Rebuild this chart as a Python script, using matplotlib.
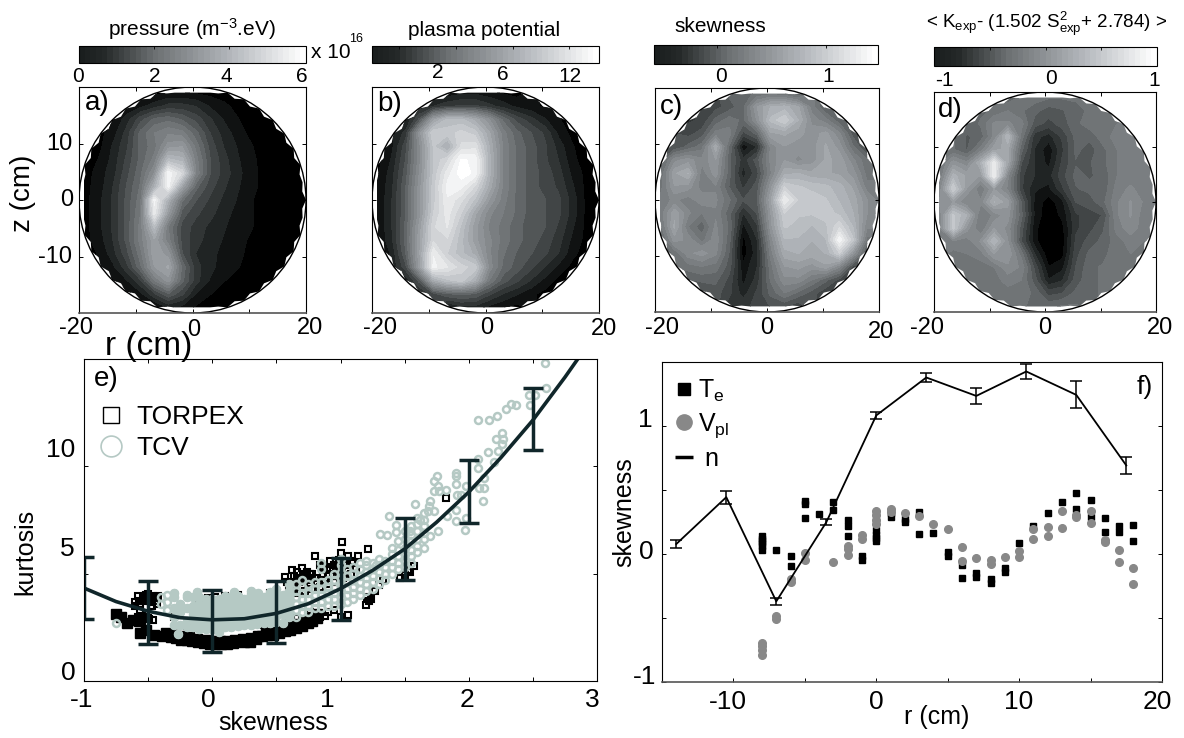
import numpy as np
import matplotlib
matplotlib.use('Agg')
import matplotlib.pyplot as plt
from matplotlib.cm import ScalarMappable
from matplotlib.colors import LinearSegmentedColormap, Normalize
from matplotlib.lines import Line2D
from matplotlib.patches import Circle
from matplotlib.path import Path

plt.rcParams['font.family'] = ['Liberation Sans', 'DejaVu Sans']
plt.rcParams['mathtext.default'] = 'regular'

W, H = 1184, 738

# Grid of the four maps (cm), values in percent of each colour bar
r_grid = np.linspace(-19, 20.3, 17)
z_grid = np.linspace(19, -19, 17)

pressure = [
    [0, 0, 0, 0, 0, 3, 5, 5, 4, 3, 2, 0, 0, 0, 0, 0, 0],
    [0, 0, 0, 5, 8, 12, 16, 16, 14, 9, 6, 3, 1, 0, 0, 0, 0],
    [0, 0, 4, 12, 22, 30, 32, 28, 22, 15, 9, 5, 2, 1, 0, 0, 0],
    [0, 0, 7, 16, 30, 38, 42, 40, 30, 19, 12, 7, 3, 1, 0, 0, 0],
    [0, 3, 10, 18, 30, 36, 50, 52, 36, 22, 14, 9, 5, 2, 0, 0, 0],
    [2, 5, 11, 20, 30, 40, 68, 64, 40, 24, 16, 10, 6, 2, 0, 0, 0],
    [2, 7, 12, 22, 32, 48, 94, 80, 42, 24, 17, 11, 6, 3, 0, 0, 0],
    [3, 7, 14, 24, 34, 62, 92, 56, 30, 21, 15, 10, 6, 3, 0, 0, 0],
    [3, 8, 15, 25, 36, 92, 62, 34, 24, 18, 13, 9, 5, 2, 0, 0, 0],
    [3, 8, 15, 25, 38, 88, 52, 26, 20, 16, 11, 8, 5, 2, 0, 0, 0],
    [3, 8, 15, 25, 40, 68, 38, 22, 17, 13, 10, 7, 5, 2, 0, 0, 0],
    [3, 7, 14, 25, 40, 56, 40, 22, 16, 12, 9, 6, 4, 1, 0, 0, 0],
    [0, 5, 12, 22, 36, 56, 50, 24, 14, 11, 8, 6, 3, 1, 0, 0, 0],
    [0, 0, 8, 17, 32, 52, 58, 32, 16, 11, 7, 5, 3, 1, 0, 0, 0],
    [0, 0, 4, 9, 18, 38, 50, 30, 16, 9, 5, 3, 1, 0, 0, 0, 0],
    [0, 0, 0, 3, 8, 18, 28, 20, 9, 5, 2, 1, 0, 0, 0, 0, 0],
    [0, 0, 0, 0, 0, 3, 10, 8, 4, 1, 0, 0, 0, 0, 0, 0, 0],
]
potential = [
    [0, 0, 0, 0, 0, 6, 8, 8, 6, 4, 3, 0, 0, 0, 0, 0, 0],
    [0, 0, 0, 10, 14, 18, 20, 20, 16, 12, 8, 6, 4, 0, 0, 0, 0],
    [0, 0, 8, 25, 55, 68, 68, 60, 48, 32, 22, 16, 10, 5, 0, 0, 0],
    [0, 0, 16, 50, 76, 74, 78, 74, 58, 40, 30, 24, 18, 8, 3, 0, 0],
    [0, 8, 22, 46, 72, 60, 82, 84, 62, 42, 32, 26, 20, 12, 5, 2, 0],
    [3, 10, 24, 46, 72, 80, 96, 94, 64, 42, 32, 26, 20, 14, 6, 2, 0],
    [4, 12, 26, 48, 72, 88, 98, 94, 64, 42, 32, 26, 22, 16, 8, 3, 0],
    [5, 13, 28, 50, 74, 92, 92, 80, 60, 42, 32, 26, 22, 18, 10, 3, 0],
    [5, 14, 28, 50, 74, 90, 82, 70, 52, 40, 32, 26, 24, 20, 12, 3, 0],
    [5, 14, 28, 50, 76, 88, 76, 58, 44, 38, 32, 26, 24, 20, 12, 3, 0],
    [5, 14, 30, 54, 80, 86, 70, 54, 42, 36, 30, 26, 24, 18, 10, 3, 0],
    [5, 13, 30, 56, 80, 80, 68, 54, 44, 36, 30, 26, 22, 16, 8, 3, 0],
    [0, 10, 28, 56, 90, 76, 68, 60, 44, 34, 28, 24, 20, 14, 6, 2, 0],
    [0, 0, 22, 54, 92, 86, 78, 74, 46, 32, 26, 20, 14, 8, 3, 0, 0],
    [0, 0, 10, 26, 60, 70, 74, 62, 38, 26, 20, 14, 8, 3, 0, 0, 0],
    [0, 0, 0, 12, 22, 28, 30, 28, 20, 14, 10, 6, 3, 0, 0, 0, 0],
    [0, 0, 0, 0, 0, 8, 12, 12, 8, 5, 3, 0, 0, 0, 0, 0, 0],
]
skew_map = [
    [0, 0, 0, 0, 0, 30, 32, 34, 36, 34, 28, 0, 0, 0, 0, 0, 0],
    [0, 0, 0, 20, 22, 26, 32, 52, 62, 64, 58, 40, 28, 0, 0, 0, 0],
    [0, 0, 18, 20, 30, 36, 32, 48, 68, 76, 62, 46, 40, 30, 0, 0, 0],
    [0, 0, 22, 26, 40, 40, 22, 30, 56, 58, 54, 50, 54, 44, 26, 0, 0],
    [0, 24, 30, 36, 60, 32, 6, 14, 44, 52, 50, 50, 58, 50, 34, 22, 0],
    [28, 46, 50, 44, 52, 30, 16, 26, 44, 52, 46, 50, 58, 56, 44, 34, 0],
    [34, 56, 62, 40, 50, 30, 12, 22, 42, 60, 62, 58, 58, 56, 50, 36, 0],
    [36, 52, 50, 40, 42, 28, 18, 26, 50, 76, 72, 70, 68, 64, 56, 40, 0],
    [40, 44, 40, 46, 44, 34, 24, 28, 56, 90, 76, 74, 72, 66, 60, 48, 40],
    [40, 56, 44, 38, 42, 30, 14, 24, 52, 76, 72, 72, 74, 70, 62, 48, 0],
    [36, 58, 38, 30, 44, 32, 8, 18, 50, 72, 70, 66, 70, 80, 66, 44, 0],
    [30, 50, 46, 36, 46, 30, 3, 14, 44, 66, 66, 62, 66, 94, 72, 36, 0],
    [0, 34, 46, 50, 44, 28, 2, 12, 40, 60, 62, 60, 62, 76, 50, 26, 0],
    [0, 0, 36, 38, 36, 26, 6, 14, 36, 52, 54, 50, 56, 44, 22, 0, 0],
    [0, 0, 28, 30, 30, 22, 8, 16, 34, 46, 46, 38, 30, 22, 0, 0, 0],
    [0, 0, 0, 22, 26, 20, 12, 20, 30, 38, 32, 26, 20, 0, 0, 0, 0],
    [0, 0, 0, 0, 0, 16, 18, 20, 24, 24, 20, 0, 0, 0, 0, 0, 0],
]
kurt_diff = [
    [0, 0, 0, 0, 0, 30, 34, 36, 34, 34, 34, 0, 0, 0, 0, 0, 0],
    [0, 0, 0, 32, 34, 38, 34, 30, 26, 28, 32, 34, 36, 0, 0, 0, 0],
    [0, 0, 30, 34, 44, 44, 40, 26, 22, 26, 32, 36, 38, 38, 0, 0, 0],
    [0, 0, 28, 30, 44, 66, 36, 16, 12, 20, 30, 30, 36, 40, 40, 0, 0],
    [0, 34, 28, 40, 56, 58, 30, 14, 6, 18, 30, 26, 32, 38, 42, 42, 0],
    [36, 50, 44, 62, 88, 58, 24, 14, 8, 20, 28, 28, 32, 38, 40, 40, 0],
    [38, 64, 56, 52, 90, 44, 20, 14, 12, 22, 30, 28, 30, 38, 40, 40, 0],
    [44, 76, 52, 38, 52, 42, 20, 10, 8, 18, 28, 30, 30, 40, 44, 40, 0],
    [48, 52, 42, 44, 62, 54, 28, 8, 2, 8, 24, 26, 32, 42, 48, 42, 38],
    [44, 72, 62, 38, 44, 50, 30, 8, 1, 6, 18, 22, 24, 42, 48, 40, 0],
    [42, 74, 50, 38, 52, 46, 26, 6, 0, 3, 18, 22, 28, 40, 46, 40, 0],
    [40, 42, 40, 48, 66, 48, 24, 6, 0, 2, 20, 26, 30, 36, 40, 38, 0],
    [0, 36, 38, 40, 52, 52, 36, 14, 1, 3, 22, 30, 32, 36, 38, 36, 0],
    [0, 0, 34, 36, 38, 46, 42, 22, 5, 8, 24, 32, 34, 34, 36, 0, 0],
    [0, 0, 34, 36, 36, 40, 38, 26, 10, 14, 26, 32, 34, 34, 0, 0, 0],
    [0, 0, 0, 34, 34, 36, 36, 32, 22, 24, 30, 32, 34, 0, 0, 0, 0],
    [0, 0, 0, 0, 0, 34, 34, 32, 32, 34, 34, 0, 0, 0, 0, 0, 0],
]

# Panel e, TORPEX: the black lower band first, then the other squares
band_s = [-.754, -.709, -.664, -.619, -.574, -.56, -.514, -.454, -.394, -.319, -.32, -.28, -.244, -.2, -.154,
          -.11, -.064, -.02, .025, .07, .115, .16, .205, .25, .295, .34, .385, .43, .475, .52, .565, .61, .655,
          .7, .745, .78, .82, .82, .78, .72, .66, .6, .54, .48, .42, .36, .3, .24, .18, .12, .06, 0, -.06, -.12,
          -.18, -.24, -.3, -.36]
band_k = [3.12, 2.98, 2.70, 2.86, 2.78, 2.24, 2.39, 2.16, 2.11, 2.03, 2.2, 2.0, 1.93, 1.9, 1.85,
          1.8, 1.77, 1.74, 1.74, 1.72, 1.74, 1.78, 1.85, 1.84, 1.82, 1.95, 2.08, 2.12, 2.16, 2.22, 2.31, 2.38, 2.47,
          2.58, 2.70, 2.8, 2.93, 3.1, 3.0, 2.8, 2.65, 2.5, 2.4, 2.3, 2.25, 2.1, 2.0, 1.95, 1.9, 1.85, 1.85, 1.85,
          1.9, 1.95, 2.05, 2.1, 2.15, 2.25]
torpex_s = [-.6, -.58, -.56, -.54, -.52, -.5, -.48, -.46, -.44, -.42, -.6, -.57, -.54, -.51, -.48, -.45, -.43, -.58,
            -.55, -.52, -.49, -.46, -.58, -.55, -.52, -.5, -.47, -.56,
            .565, .625, .70, .805, .895, .985, 1.015, 1.0, 1.06, 1.216, 1.135, 1.825, .66, .74, .86, .92, .95, 1.03,
            .58, .64, .76, .9, .97, 1.09, 1.12, 1.0, 1.06, 1.225, 1.195, 1.21, 1.24, 1.3, 1.27, 1.33, 1.525, 1.465,
            1.57, 1.5, 1.54, .9, .95, .88, .84, .7, .72, .76, .8, .66, .6, .02, .1, -.1, -.03, .2, .3, .45,
            -.3, -.2, .08, .25, .4, .6, .8, .95,
            .62, .68, .74, .8, .86, .92, .98, 1.04, 1.1, .64, .7, .76, .82, .88, .94, 1.0, 1.06, .66, .72, .78, .84,
            .9, .96, 1.02, 1.08, .6, .66, .72, .78, .84]
torpex_k = [3.5, 3.95, 3.6, 3.9, 4.0, 4.05, 3.9, 3.95, 3.85, 3.95, 3.7, 3.75, 3.75, 3.8, 3.7, 3.75, 3.6, 3.0,
            3.05, 3.0, 2.9, 2.85, 2.8, 2.75, 2.7, 2.95, 3.5, 3.3,
            4.84, 5.19, 5.26, 5.81, 5.19, 5.65, 6.48, 5.96, 5.81, 6.15, 5.81, 8.52, 5.1, 5.1, 5.3, 5.6, 5.4, 5.5,
            4.6, 4.9, 5.0, 5.0, 5.1, 5.6, 5.2, 3.0, 3.09, 3.71, 3.56, 3.9, 3.8, 4.49, 4.2, 4.7, 5.19, 4.8,
            5.34, 4.95, 5.1, 3.2, 3.3, 3.05, 3.0, 2.9, 2.75, 3.2, 3.0, 2.95, 2.65, 3.9, 3.95, 3.75, 3.85, 4.0, 3.9, 4.1,
            3.0, 2.55, 2.6, 2.7, 2.6, 2.8, 3.1, 4.6,
            4.5, 4.6, 4.7, 4.8, 5.0, 5.2, 5.3, 5.4, 5.5, 4.3, 4.4, 4.5, 4.6, 4.7, 4.9, 5.1, 5.2, 4.1, 4.2, 4.3, 4.4,
            4.5, 4.6, 4.8, 5.0, 4.3, 4.7, 4.9, 5.0, 5.4]

# Panel e, TCV circles: dense cloud by skewness column, then the sparse points
cloud_s = [-.40, -.35, -.30, -.25, -.20, -.15, -.10, -.05, 0, .05, .10, .15, .20, .25, .30, .35, .40, .45, .50, .55,
           .60, .65, .70, .75, .80, .85, .90, .95, 1.0, 1.05, 1.10, 1.15, 1.20, 1.25, 1.30, 1.35, 1.40, 1.45, 1.50,
           1.55, 1.60, 1.65]
cloud_k = [[3.6, 3.9], [3.3, 3.7, 4.0], [2.6, 3.0, 3.4, 3.9], [2.6, 3.2, 3.6], [2.5, 2.8, 3.4, 3.9],
           [2.5, 2.8, 3.1, 3.5, 3.9], [2.4, 2.7, 3.0, 3.3, 3.6, 3.9], [2.4, 2.7, 3.0, 3.3, 3.6, 3.8],
           [2.4, 2.65, 2.9, 3.15, 3.4, 3.65, 3.8], [2.3, 2.6, 2.9, 3.2, 3.5, 3.8],
           [2.5, 2.75, 3.0, 3.25, 3.5, 3.75, 3.95], [2.5, 2.8, 3.1, 3.4, 3.7, 3.9], [2.55, 2.85, 3.15, 3.45, 3.75, 3.95],
           [2.6, 2.9, 3.2, 3.5, 3.8], [2.6, 2.9, 3.2, 3.5, 3.8, 4.0], [2.65, 2.95, 3.25, 3.55, 3.85],
           [2.7, 3.0, 3.3, 3.6, 3.9], [2.7, 3.0, 3.3, 3.6, 3.9, 4.15], [2.75, 3.05, 3.35, 3.65, 3.95],
           [2.7, 3.1, 3.4, 3.7, 4.0], [3.0, 3.3, 3.6, 3.9, 4.2, 4.5], [3.0, 3.3, 3.6, 3.9, 4.2, 4.5],
           [3.2, 3.5, 3.8, 4.1, 4.4, 4.7], [3.2, 3.5, 3.8, 4.1, 4.5], [3.4, 3.7, 4.0, 4.3, 4.6],
           [3.4, 3.7, 4.0, 4.3, 4.6, 5.2], [3.5, 3.8, 4.1, 4.4, 4.7], [3.5, 3.8, 4.1, 4.4, 4.7, 5.0],
           [3.6, 3.9, 4.2, 4.5, 4.8, 5.1, 5.4], [3.7, 4.0, 4.3, 4.6, 4.9, 5.2], [3.8, 4.1, 4.4, 4.7, 5.0, 5.3],
           [4.0, 4.3, 4.6, 4.9, 5.2, 5.5], [4.2, 4.5, 4.8, 5.1, 5.4, 5.6], [4.3, 4.6, 4.9, 5.2, 5.5],
           [4.5, 4.8, 5.1, 5.4, 5.7], [4.7, 5.0, 5.3, 5.6], [5.0, 5.3, 5.6, 5.9, 6.2], [5.2, 5.5, 5.8, 6.1, 6.5],
           [5.3, 5.6, 5.9, 6.2, 6.6, 7.0], [5.5, 5.8, 6.1, 6.5, 6.8, 7.2], [6.0, 6.3, 6.6, 7.0, 7.3, 7.6],
           [6.2, 6.6, 6.9, 7.2, 7.5]]
sparse_s = [2.595, 2.6, 2.47, 2.52, 2.48, 2.33, 2.37, 2.29, 2.22, 2.16, 2.07, 2.26, 2.21, 2.27, 2.26, 2.23, 2.15, 2.07,
            2.2, 2.07, 2.12, 1.9, 1.9, 1.9, 1.75, 1.73, 1.76, 1.73, 1.82, 1.77, 1.98, 1.91, 1.94, 2.08, 2.12, 2.11,
            1.7, 1.58, 1.69, 1.68, 1.73, 1.83, 1.9, 1.9, 1.98, 1.97, 1.76, 1.7, 1.38, 1.43, 1.43, 1.31, 1.36, 1.62,
            1.65, 1.54, -.75, -.3, -.27, -.2, -.12, .17, .3, .36, .5, .85, 1.0, 1.28]
sparse_k = [14.8, 13.65, 13.3, 13.3, 12.87, 12.92, 12.85, 12.67, 12.36, 12.17, 12.14, 11.55, 11.29, 11.29, 11.04, 10.73,
            10.65, 10.34, 10.2, 9.9, 9.46, 9.7, 9.53, 9.2, 9.57, 9.3, 9.1, 8.84, 8.9, 8.84, 9.07, 8.68, 8.68, 9.0, 9.0,
            8.4, 8.37, 8.26, 8.14, 7.9, 7.9, 7.67, 7.95, 7.47, 7.6, 7.02, 7.0, 6.74, 7.67, 7.28, 6.93, 6.85, 6.82, 7.5,
            7.83, 6.97, 2.7, 4.1, 2.2, 4.0, 4.15, 4.15, 4.2, 4.1, 4.3, 5.5, 5.7, 5.4]

# Panel e, fit curve and bars
fit_s = [-1, -.75, -.5, -.25, 0, .25, .5, .75, 1, 1.25, 1.5, 1.75, 2, 2.25, 2.5, 2.75, 2.85]
fit_k = [4.33, 3.7, 3.25, 2.95, 2.85, 2.9, 3.15, 3.6, 4.3, 5.15, 6.15, 7.4, 8.8, 10.4, 12.15, 14.15, 15.0]
bar_s = [-1, -.5, 0, .5, 1, 1.5, 2, 2.5]
bar_k = [4.33, 3.2, 2.8, 3.2, 4.3, 6.15, 8.84, 12.2]
bar_err = [1.46, 1.46, 1.45, 1.45, 1.44, 1.45, 1.47, 1.46]

# Panel f
te_r = [-8, -8, -8, -8, -8, -8, -7, -6, -6, -5, -5, -5, -4, -3, -3, -2, -2, -2, -1, -1, 0, 0, 0, 0, 1, 1, 2, 2, 3, 3, 4,
        5, 5, 6, 6, 7, 7, 8, 8, 9, 9, 10, 11, 12, 13, 14, 14, 15, 15, 16, 16, 17, 17, 18, 18]
te_v = [.144, .12, .104, .086, .06, .029, .034, -.013, -.097, .413, .394, .285, .316, .405, .347, .269, .222, .141,
        -.013, -.044, .19, .151, .125, .104, .287, .32, .274, .248, .329, .154, .164, .013, -.013, -.084, -.185,
        -.149, -.18, -.196, -.227, -.112, -.144, .084, .222, .321, .41, .473, .355, .423, .287, .285, .172, .217,
        .172, .227, .102]
vpl_r = [-8, -8, -8, -8, -7, -7, -6, -6, -5, -5, -3, -2, -2, -2, -1, -1, 0, 0, 0, 0, 1, 1, 2, 3, 4, 5, 6, 6, 7, 8, 8, 9,
         10, 10, 11, 11, 12, 12, 13, 13, 14, 14, 15, 15, 16, 16, 17, 17, 18, 18]
vpl_v = [-.692, -.718, -.749, -.789, -.488, -.509, -.196, -.222, .008, -.044, -.065, .065, .039, -.005, .151, .117,
         .334, .308, .269, .238, .352, .332, .321, .3, .232, .196, .057, -.057, -.029, -.044, -.076, -.023, .021,
         -.023, .196, .12, .211, .141, .339, .204, .308, .29, .339, .24, .112, .094, .031, -.065, -.11, -.235]
n_r = [-14, -10.5, -7, -3.5, 0, 3.5, 7, 10.5, 14, 17.5]
n_v = [.078, .444, -.37, .248, 1.083, 1.379, 1.235, 1.426, 1.243, .692]
n_err = [.029, .05, .03, .025, .03, .035, .065, .055, .105, .068]

map_cmap = LinearSegmentedColormap.from_list(
    'maps', [(0, '#000000'), (.1, '#202424'), (.33, '#6c7072'), (.66, '#b0b4b9'), (1, '#ffffff')], N=21)
bar_cmap = LinearSegmentedColormap.from_list(
    'bars', [(0, '#1a1e1e'), (.1, '#242828'), (.33, '#6c7072'), (.66, '#b0b4b9'), (1, '#ffffff')], N=40)
levels = np.linspace(0, 100, 22)
dark = '#10262a'
tcv_color = '#b5c9c4'


def axes_px(left, top, right, bottom):
    return fig.add_axes([left / W, 1 - bottom / H, (right - left) / W, (bottom - top) / H])


def label(x, y, s, size=17, **kw):
    fig.text(x / W, 1 - y / H, s, fontsize=size, ha='center', va='center', **kw)


def fill_outside(values):
    # cells beyond the vessel take the nearest measured value, the clip outline cuts them off
    field = np.array(values, dtype=float)
    inside = np.hypot(rr, zz) <= 20.35
    for i, j in zip(*np.nonzero(~inside)):
        dist = np.hypot(rr - rr[i, j], zz - zz[i, j])
        dist[~inside] = np.inf
        field[i, j] = field.flat[dist.argmin()]
    return field


def notched_outline():
    # toothed edge of the measured area, flat at the top and bottom
    ang = np.linspace(0, 2 * np.pi, 81)
    rad = np.where(np.arange(81) % 2 == 0, 20.0, 19.4)
    x = np.clip(rad * np.cos(ang), -19.2, 19.4)
    y = np.clip(rad * np.sin(ang), -19, 19)
    x[0] = x[-1] = 20
    return Path(np.column_stack([x, y]))


fig = plt.figure(figsize=(W / 100, H / 100), dpi=100)

# Top row
maps = [pressure, potential, skew_map, kurt_diff]
map_boxes = [(79, 87, 306, 313), (372, 87, 599, 313), (655, 88, 879, 312), (934, 92, 1156, 312)]
bar_boxes = [(79, 46, 306, 63), (372, 46, 599, 63), (654, 45, 878, 64), (934, 47, 1157, 66)]
bar_ticks = [[0, 33, 66, 100], [12, 37, 62, 87], [28, 77], [0, 25, 50, 75, 100]]
letters = [(97, 103, 'a)'), (390, 104, 'b)'), (671, 107, 'c)'), (950, 110, 'd)')]
rr, zz = np.meshgrid(r_grid, z_grid)
outline = notched_outline()
for values, box, bbox, bt, let in zip(maps, map_boxes, bar_boxes, bar_ticks, letters):
    ax = axes_px(*box)
    cf = ax.contourf(rr, zz, fill_outside(values), levels=levels, cmap=map_cmap, vmin=0, vmax=100)
    cf.set_clip_path(outline, ax.transData)
    ax.add_patch(Circle((0, 0), 20, fill=False, color='black', lw=1))
    ax.set_xlim(-20, 20)
    ax.set_ylim(-20, 20)
    ax.set_xticks([-10, 0, 10])
    ax.set_yticks([-10, 0, 10])
    ax.set_xticklabels([])
    ax.set_yticklabels([])
    ax.tick_params(direction='in', length=3, width=0.7, top=True, right=True)
    ax.spines['bottom'].set_color('#555555')
    ax.spines['bottom'].set_linewidth(1.2)
    label(let[0], let[1], let[2], size=20)

    cax = axes_px(*bbox)
    cb = fig.colorbar(ScalarMappable(Normalize(0, 100), bar_cmap), cax=cax, orientation='horizontal')
    cb.set_ticks(bt)
    cb.set_ticklabels([])
    cax.xaxis.set_ticks_position('top')
    cax.tick_params(direction='in', length=2, width=0.6)

# Top row texts, the labels sit off their ticks in the original
label(192, 29, 'pressure (m$^{-3}$.eV)', size=15)
label(484, 30, 'plasma potential', size=15)
label(720, 26, 'skewness', size=15)
label(1047, 24, '< K$_{exp}$- (1.502 S$^{2}_{exp}$+ 2.784) >', size=13.5)
for x, y, s in [(78, 76, '0'), (155, 76, '2'), (226, 76, '4'), (302, 76, '6'),
                (438, 73, '2'), (503, 75, '6'), (570, 77, '12'),
                (721, 76, '0'), (828, 77, '1'),
                (944, 80, '-1'), (1051, 79, '0'), (1154, 81, '1'),
                (331, 53, 'x 10')]:
    label(x, y, s, size=15)
label(356, 39, '16', size=9)
for x, y, s in [(59, 144, '10'), (67, 200, '0'), (55, 257, '-10'),
                (76, 328, '-20'), (194, 330, '0'), (310, 328, '20'),
                (380, 328, '-20'), (487, 328, '0'), (604, 329, '20'),
                (662, 328, '-20'), (767, 328, '0'), (881, 332, '20'),
                (927, 328, '-20'), (1045, 328, '0'), (1160, 328, '20')]:
    label(x, y, s, size=17)
label(23, 193, 'z (cm)', size=20, rotation=90)
label(149, 346, 'r (cm)', size=24)

# Panel e
ax = axes_px(84, 359, 597, 681)
tcv_s = [s for s, col in zip(cloud_s, cloud_k) for _ in col] + sparse_s
tcv_k = [k for col in cloud_k for k in col] + sparse_k
core_s = [s for s in tcv_s if -0.3 <= s <= 0.6]
core_k = [k for s, k in zip(tcv_s, tcv_k) if -0.3 <= s <= 0.6]
ax.plot(band_s, band_k, ls='none', marker='s', ms=6.5, color='black')
ax.plot(torpex_s, torpex_k, ls='none', marker='s', ms=4.2, mfc='none', mec='black', mew=1.5)
ax.plot(tcv_s, tcv_k, ls='none', marker='o', ms=5, mfc='none', mec=tcv_color, mew=1.8)
ax.plot(core_s, core_k, ls='none', marker='o', ms=5.6, color=tcv_color)
ax.plot(fit_s, fit_k, color=dark, lw=2.6)
ax.errorbar(bar_s, bar_k, yerr=bar_err, ls='none', color=dark, elinewidth=2.5, capsize=7, capthick=2.5)
ax.set_xlim(-1, 3)
ax.set_ylim(0, 15)
ax.set_xticks([-1, -.5, 0, .5, 1, 1.5, 2, 2.5, 3])
ax.set_yticks([0, 5, 10])
ax.set_xticklabels([])
ax.set_yticklabels([])
ax.tick_params(direction='in', length=3, width=0.7, top=True, right=True)
handles = [Line2D([], [], ls='none', marker='s', ms=12, mfc='none', mec='black', mew=1),
           Line2D([], [], ls='none', marker='o', ms=15, mfc='none', mec=tcv_color, mew=1.2)]
ax.legend(handles, ['TORPEX', 'TCV'], loc='upper left', bbox_to_anchor=(-0.039, 0.922), frameon=False, fontsize=19,
          labelspacing=0.25, handletextpad=-0.05, borderpad=0.3)
label(106, 379, 'e)', size=20)
for x, y, s in [(61, 450, '10'), (67, 549, '5'), (68, 673, '0'),
                (82, 700, '-1'), (208, 700, '0'), (327, 700, '1'), (467, 700, '2'), (592, 700, '3')]:
    label(x, y, s, size=19)
label(273, 723, 'skewness', size=18)
label(25, 552, 'kurtosis', size=18, rotation=90)

# Panel f
ax = axes_px(662, 362, 1162, 682)
ax.plot(te_r, te_v, ls='none', marker='s', ms=4.3, color='black')
ax.plot(vpl_r, vpl_v, ls='none', marker='o', ms=5.5, color='#888888')
ax.errorbar(n_r, n_v, yerr=n_err, color='black', lw=1.3, elinewidth=1.1, capsize=4, capthick=1.1)
ax.set_xlim(-15, 20)
ax.set_ylim(-1, 1.5)
ax.set_xticks([-10, -5, 0, 5, 10, 15, 20])
ax.set_yticks([-1, -.5, 0, .5, 1])
ax.set_xticklabels([])
ax.set_yticklabels([])
ax.tick_params(direction='in', length=3, width=0.7, right=True)
ax.spines['bottom'].set_color('#555555')
ax.spines['bottom'].set_linewidth(1.2)
handles = [Line2D([], [], ls='none', marker='s', ms=9, color='black'),
           Line2D([], [], ls='none', marker='o', ms=11, color='#888888'),
           Line2D([], [], ls='none', marker='_', ms=13, mew=2.5, color='black')]
ax.legend(handles, ['T$_e$', 'V$_{pl}$', ' n'], loc='upper left', bbox_to_anchor=(-0.041, 1.005), frameon=False,
          fontsize=18, labelspacing=0.28, handletextpad=-0.45, borderpad=0.2)
label(1145, 387, 'f)', size=19)
for x, y, s in [(645, 420, '1'), (646, 552, '0'), (645, 677, '-1'),
                (728, 702, '-10'), (876, 702, '0'), (1019, 702, '10'), (1157, 702, '20')]:
    label(x, y, s, size=19)
label(937, 717, 'r (cm)', size=18)
label(624, 512, 'skewness', size=18, rotation=90)

fig.savefig('out.png', dpi=100)
